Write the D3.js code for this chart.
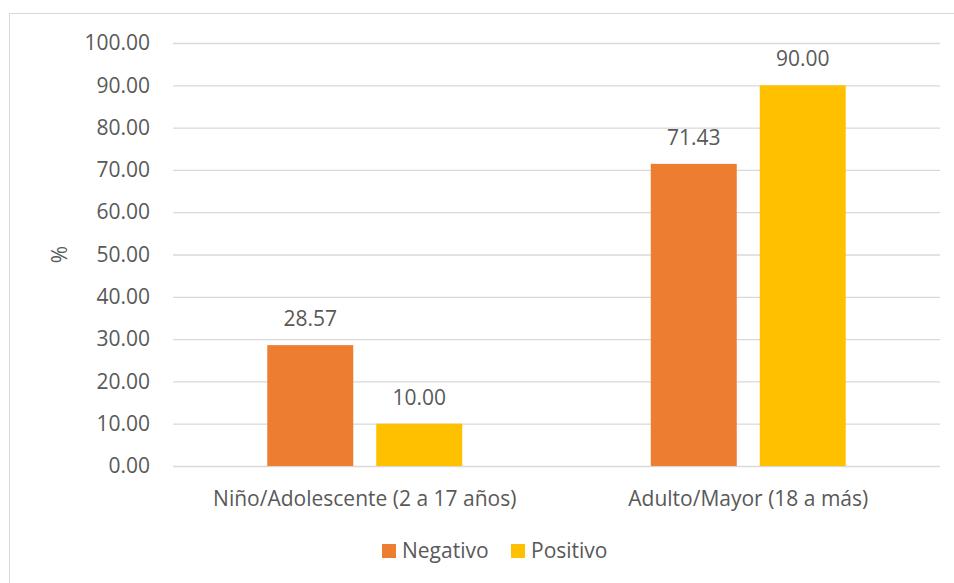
<!DOCTYPE html>
<html><head><meta charset="utf-8">
<script src="https://cdn.jsdelivr.net/npm/d3@7"></script>
<style>
html,body{margin:0;padding:0;background:#fff;}
svg text{font-family:"Open Sans",sans-serif;fill:#595959;}
</style></head>
<body>
<svg id="chart" width="954" height="583"></svg>
<script>
const categories = ["Niño/Adolescente (2 a 17 años)", "Adulto/Mayor (18 a más)"];
const seriesNames = ["Negativo", "Positivo"];
const negativo = [28.57, 71.43];
const positivo = [10.00, 90.00];
const yTicks = [0, 10, 20, 30, 40, 50, 60, 70, 80, 90, 100];
const yTitle = "%";
const colors = ["#ED7D31", "#FFC000"];

const seriesValues = [negativo, positivo];
const svg = d3.select("#chart");
const fs = 21;

// outer border
svg.append("rect").attr("x", 9.5).attr("y", 13.5).attr("width", 1000).attr("height", 1000)
  .attr("fill", "none").attr("stroke", "#D9D9D9").attr("stroke-width", 1);

const plotL = 173, plotR = 940, plotT = 43, plotB = 466;
const y = d3.scaleLinear().domain([0, 100]).range([plotB, plotT]);
const x0 = d3.scaleBand().domain(categories).range([plotL, plotR]);
const x1 = d3.scaleBand().domain(seriesNames).range([0, x0.bandwidth()])
  .paddingInner(23/109).paddingOuter(0.865);

// gridlines
const yAxis = d3.axisLeft(y).tickValues(yTicks).tickSize(-(plotR - plotL)).tickPadding(23)
  .tickFormat(d3.format(".2f"));
const gy = svg.append("g").attr("transform", `translate(${plotL},0)`).call(yAxis);
gy.select(".domain").remove();
gy.selectAll(".tick line").attr("stroke", "#D9D9D9").attr("stroke-width", 1.3);
gy.selectAll(".tick text").style("font-size", fs + "px").attr("fill", "#595959");

// bars
const groups = svg.append("g").selectAll("g").data(categories).join("g")
  .attr("transform", d => `translate(${x0(d)},0)`);
seriesNames.forEach((s, si) => {
  groups.append("rect")
    .attr("x", x1(s))
    .attr("width", x1.bandwidth())
    .attr("y", (d, i) => y(seriesValues[si][i]))
    .attr("height", (d, i) => plotB - y(seriesValues[si][i]))
    .attr("fill", colors[si]);
  groups.append("text")
    .attr("x", x1(s) + x1.bandwidth() / 2)
    .attr("y", (d, i) => y(seriesValues[si][i]) - 19)
    .attr("text-anchor", "middle")
    .style("font-size", fs + "px")
    .text((d, i) => seriesValues[si][i].toFixed(2));
});

// x axis labels
const xAxis = d3.axisBottom(x0).tickSize(0).tickPadding(25);
const gx = svg.append("g").attr("transform", `translate(0,${plotB})`).call(xAxis);
gx.select(".domain").remove();
gx.selectAll(".tick text").style("font-size", fs + "px").attr("fill", "#595959");

// y title
svg.append("text").attr("transform", `translate(67,${(plotT + plotB) / 2}) rotate(-90)`)
  .attr("text-anchor", "middle").style("font-size", fs + "px").text(yTitle);

// legend
const legendX = [382, 511];
const leg = svg.append("g").selectAll("g").data(seriesNames).join("g")
  .attr("transform", (d, i) => `translate(${legendX[i]},544)`);
leg.append("rect").attr("width", 14).attr("height", 14).attr("fill", (d, i) => colors[i]);
leg.append("text").attr("x", 20).attr("y", 14).style("font-size", fs + "px").text(d => d);
</script>
</body></html>
